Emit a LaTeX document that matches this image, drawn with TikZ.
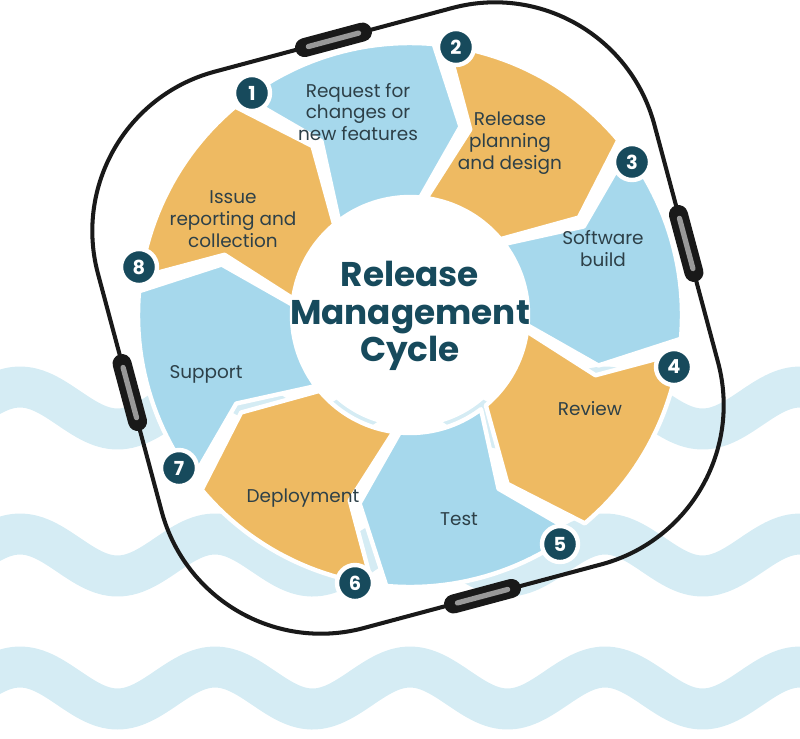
\documentclass[tikz,border=0pt]{standalone}
\usepackage{fontspec}
\setmainfont{Poppins}
\definecolor{segblue}{HTML}{A6D8EC}
\definecolor{segorange}{HTML}{EEBA62}
\definecolor{wave}{HTML}{D5ECF4}
\definecolor{teal}{HTML}{174A5C}
\definecolor{labeltext}{HTML}{2D4048}
\begin{document}
\begin{tikzpicture}[x=0.02cm,y=-0.02cm,
  badge/.style={circle,fill=teal,draw=white,line width=2.5pt,minimum size=0.72cm,inner sep=0pt,text=white,font=\bfseries\fontsize{11}{12}\selectfont},
  lbl/.style={align=center,text=labeltext,font=\fontsize{10.5}{12.5}\selectfont},
  wavestyle/.style={wave,line width=0.82cm},
  handle/.style={line width=0.38cm,line cap=round,black!90}]
\useasboundingbox (0,0) rectangle (800,738);
% waves
\foreach \yc in {408,555,688}{
  \draw[wavestyle] plot[domain=-20:820,samples=120,smooth] (\x,{\yc-21*cos((\x-20)*1.846)});
}
% outline and handles
\begin{scope}[shift={(408,318)},rotate=15]
  \draw[line width=2.3pt,rounded corners=3.3cm,black!90] (-288,-288) rectangle (288,288);
  \foreach \r in {0,90,180,270}{
    \begin{scope}[rotate=\r]
      \draw[handle] (-30,-288) -- (30,-288);
      \draw[line width=3pt,line cap=round,gray!80] (-26,-288) -- (26,-288);
    \end{scope}
  }
\end{scope}
% segments
\def\Ri{118}\def\Ro{272}\def\Rm{195}
\foreach \c/\col in {106/segblue,61/segorange,16/segblue,-29/segorange,-74/segblue,-119/segorange,-164/segblue,151/segorange}{
  \pgfmathsetmacro\s{\c+21}
  \pgfmathsetmacro\e{\c-21}
  \pgfmathsetmacro\t{\e-10}
  \pgfmathsetmacro\n{\s-10}
  \fill[\col,draw=white,line width=2.5pt,line join=round]
    plot[domain=\s:\e,samples=25] ({410+\Ro*cos(\x)},{315-\Ro*sin(\x)})
    -- ({410+\Rm*cos(\t)},{315-\Rm*sin(\t)})
    -- plot[domain=\e:\s,samples=25] ({410+\Ri*cos(\x)},{315-\Ri*sin(\x)})
    -- ({410+\Rm*cos(\n)},{315-\Rm*sin(\n)}) -- cycle;
}
\fill[white] (410,315) circle[radius=2.24cm];
% title
\node[align=center,text=teal,font=\bfseries\fontsize{19.5}{21.5}\selectfont] (title) at (410,316) {Release\\Management\\Cycle};
% labels
\node[lbl] (l1) at (358,112) {Request for\\changes or\\new features};
\node[lbl] (l2) at (510,143) {Release\\planning\\and design};
\node[lbl] (l3) at (603,249) {Software\\build};
\node[lbl] (l4) at (590,409) {Review};
\node[lbl] (l5) at (459,519) {Test};
\node[lbl] (l6) at (303,498) {Deployment};
\node[lbl] (l7) at (206,374) {Support};
\node[lbl] (l8) at (233,219) {Issue\\reporting and\\collection};
% badges
\node[badge] (b1) at (252,93) {1};
\node[badge] (b2) at (456,47) {2};
\node[badge] (b3) at (632,162) {3};
\node[badge] (b4) at (674,367) {4};
\node[badge] (b5) at (560,544) {5};
\node[badge] (b6) at (355,583) {6};
\node[badge] (b7) at (179,468) {7};
\node[badge] (b8) at (139,267) {8};
\end{tikzpicture}
\end{document}
